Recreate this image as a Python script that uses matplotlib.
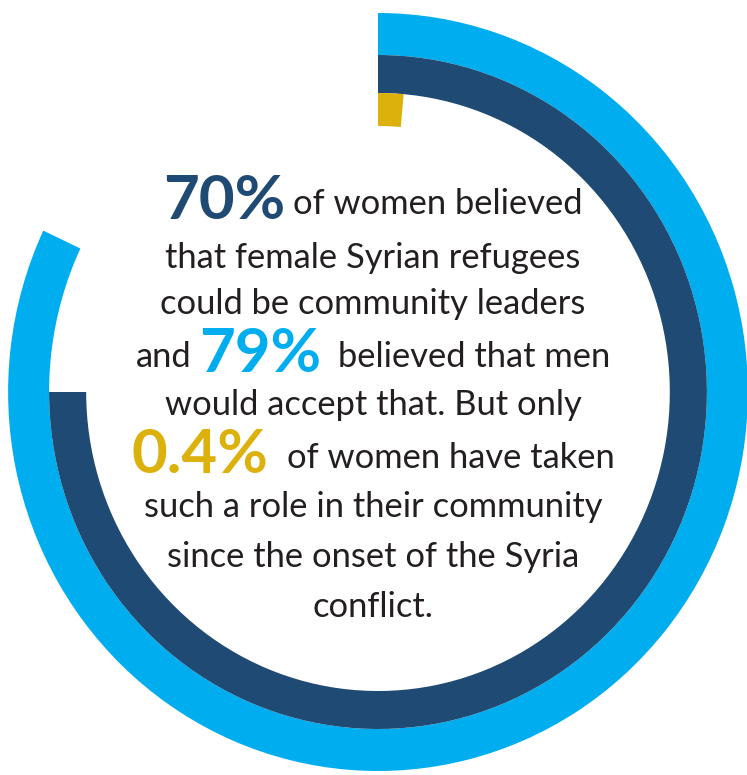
import numpy as np
import matplotlib
matplotlib.use("Agg")
import matplotlib.pyplot as plt

# ---- data (arc extents as drawn in the picture, % of a full circle) ----
ring_names = ["Men would accept (79%)", "Women believe (70%)", "Have taken role (0.4%)"]
arc_share = [82.0, 75.0, 1.4]          # drawn arc length, % of full turn
ring_colors = ["#00AEEF", "#1F4A74", "#DDB10B"]
ring_inner = [337, 299, 266]           # radii in px (vertical scale)
ring_outer = [379, 337, 299]

pct_labels = ["70%", "79%", "0.4%"]
pct_colors = ["#1F4A74", "#00AEEF", "#DDB10B"]

# ---- figure ----
W, H, DPI = 747, 775, 100
fig = plt.figure(figsize=(W / DPI, H / DPI), dpi=DPI)
fig.patch.set_facecolor("white")

cx, cy = 378, 392        # centre in px from top-left
R = 380                  # radial limit
xscale = 0.976           # horizontal squeeze of the reference
ax = fig.add_axes([(cx - R * xscale) / W, (H - cy - R) / H,
                   2 * R * xscale / W, 2 * R / H], projection="polar")
ax.set_aspect("auto")
ax.set_theta_zero_location("N")
ax.set_theta_direction(-1)
ax.set_ylim(0, R)
ax.set_axis_off()

for share, col, r0, r1 in zip(arc_share, ring_colors, ring_inner, ring_outer):
    ax.bar(0, r1 - r0, width=2 * np.pi * share / 100.0, bottom=r0,
           align="edge", color=col, edgecolor="none", linewidth=0)

# ---- text ----
body_font = "Lato"
body_size = 24.8
big_size = 44.5
text_col = "#231F20"
cxt = 373  # text centre x

# lines: list of (segments, baseline_y); segment = (text, kind, gap_before)
lines = [
    ([(pct_labels[0], 0, 0), ("of women believed", None, 8)], 214),
    ([("that female Syrian refugees", None, 0)], 268),
    ([("could be community leaders", None, 0)], 314),
    ([("and", None, 0), (pct_labels[1], 1, 8), ("believed that men", None, 17)], 367),
    ([("would accept that. But only", None, 0)], 415),
    ([(pct_labels[2], 2, 0), ("of women have taken", None, 19)], 468),
    ([("such a role in their community", None, 0)], 517),
    ([("since the onset of the Syria", None, 0)], 567),
    ([("conflict.", None, 0)], 617),
]

renderer = fig.canvas.get_renderer()
for segs, base in lines:
    objs = []
    total = 0
    for txt, kind, gap in segs:
        if kind is None:
            t = fig.text(0, 0, txt, fontsize=body_size, family=body_font,
                         color=text_col, ha="left", va="baseline")
        else:
            t = fig.text(0, 0, txt, fontsize=big_size, family=body_font,
                         fontweight="bold", color=pct_colors[kind],
                         ha="left", va="baseline")
        w = t.get_window_extent(renderer).width
        objs.append((t, w, gap))
        total += w + gap
    x = cxt - total / 2
    for t, w, gap in objs:
        x += gap
        yb = base + (5 if t.get_fontsize() == big_size else 0)
        t.set_position((x / W, (H - yb) / H))
        x += w

fig.savefig("out.png", dpi=DPI, facecolor="white")
